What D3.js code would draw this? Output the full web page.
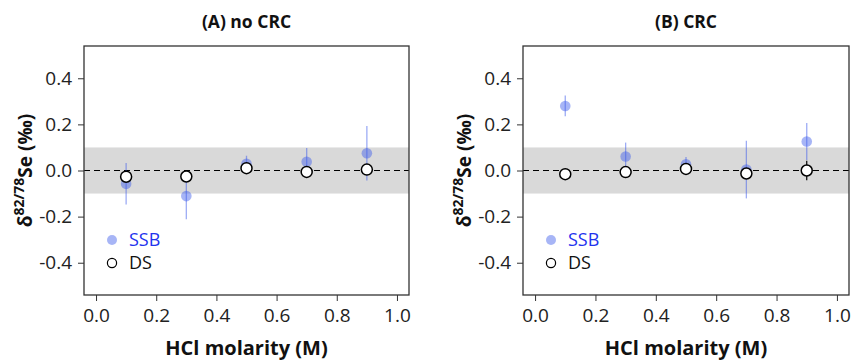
<!DOCTYPE html>
<html>
<head>
<meta charset="utf-8">
<script src="https://cdn.jsdelivr.net/npm/d3@7"></script>
<style>
  body { margin: 0; background: #fff; }
  svg { font-family: 'Open Sans', 'Noto Sans', sans-serif; }
</style>
</head>
<body>
<svg id="chart" width="851" height="360"></svg>
<script>
const molarity = [0.1, 0.3, 0.5, 0.7, 0.9]

// panel A: no CRC
const ssbA = [-0.058, -0.111, 0.029, 0.038, 0.075]
const ssbA_sd = [0.09, 0.1, 0.035, 0.06, 0.118]
const dsA = [-0.027, -0.026, 0.01, -0.006, 0.004]
const dsA_sd = [0.015, 0.015, 0.01, 0.01, 0.015]

// panel B: CRC
const ssbB = [0.28, 0.061, 0.027, 0.004, 0.126]
const ssbB_sd = [0.045, 0.06, 0.032, 0.125, 0.08]
const dsB = [-0.016, -0.007, 0.007, -0.013, 0.0]
const dsB_sd = [0.012, 0.012, 0.01, 0.012, 0.042]

const xTicks = [0, 0.2, 0.4, 0.6, 0.8, 1.0]
const yTicks = [-0.4, -0.2, 0, 0.2, 0.4]
const legendLabels = ['SSB', 'DS']

const panels = [
  { title: '(A) no CRC', left: 84, right: 409, ssb: ssbA, ssbSd: ssbA_sd, ds: dsA, dsSd: dsA_sd },
  { title: '(B) CRC', left: 523, right: 849, ssb: ssbB, ssbSd: ssbB_sd, ds: dsB, dsSd: dsB_sd },
]

const svg = d3.select('#chart')
const plotTop = 46
const plotBottom = 295
const ssbFill = 'rgba(60, 90, 235, 0.45)'
const ssbLine = 'rgba(60, 90, 235, 0.5)'

panels.forEach((p) => {
  const x = d3.scaleLinear().domain([-0.04, 1.04]).range([p.left, p.right])
  const y = d3.scaleLinear().domain([-0.54, 0.54]).range([plotBottom, plotTop])
  const g = svg.append('g')

  // grey band +-0.1
  g.append('rect')
    .attr('x', p.left)
    .attr('width', p.right - p.left)
    .attr('y', y(0.1))
    .attr('height', y(-0.1) - y(0.1))
    .attr('fill', '#d9d9d9')

  g.append('line')
    .attr('x1', p.left).attr('x2', p.right)
    .attr('y1', y(0)).attr('y2', y(0))
    .attr('stroke', '#000')
    .attr('stroke-width', 1.2)
    .attr('stroke-dasharray', '6,4')

  // axes
  const xAxis = g.append('g')
    .attr('transform', `translate(0, ${plotBottom})`)
    .call(d3.axisBottom(x).tickValues(xTicks).tickFormat(d3.format('.1f')).tickSize(6).tickPadding(8))
  xAxis.select('.domain').remove()

  const yAxis = g.append('g')
    .attr('transform', `translate(${p.left}, 0)`)
    .call(d3.axisLeft(y).tickValues(yTicks).tickSize(6).tickPadding(6))
  yAxis.select('.domain').remove()

  g.selectAll('.tick text')
    .style('font-size', '19px')
    .style('font-family', "'Open Sans', sans-serif")
    .attr('fill', '#222')
  g.selectAll('.tick line').attr('stroke', '#333')
  yAxis.selectAll('.tick text').text((d) => d3.format('.1f')(d).replace('−', '-'))

  // frame
  g.append('rect')
    .attr('x', p.left).attr('y', plotTop)
    .attr('width', p.right - p.left).attr('height', plotBottom - plotTop)
    .attr('fill', 'none')
    .attr('stroke', '#333')
    .attr('stroke-width', 1.3)

  // SSB error bars + points
  g.selectAll('.ssbErr')
    .data(molarity)
    .join('line')
    .attr('class', 'ssbErr')
    .attr('x1', (d) => x(d)).attr('x2', (d) => x(d))
    .attr('y1', (d, i) => y(p.ssb[i] + p.ssbSd[i]))
    .attr('y2', (d, i) => y(p.ssb[i] - p.ssbSd[i]))
    .attr('stroke', ssbLine)
    .attr('stroke-width', 1.3)

  g.selectAll('.ssbPt')
    .data(molarity)
    .join('circle')
    .attr('class', 'ssbPt')
    .attr('cx', (d) => x(d))
    .attr('cy', (d, i) => y(p.ssb[i]))
    .attr('r', 5.3)
    .attr('fill', ssbFill)

  // DS error bars + points
  g.selectAll('.dsErr')
    .data(molarity)
    .join('line')
    .attr('class', 'dsErr')
    .attr('x1', (d) => x(d)).attr('x2', (d) => x(d))
    .attr('y1', (d, i) => y(p.ds[i] + p.dsSd[i]))
    .attr('y2', (d, i) => y(p.ds[i] - p.dsSd[i]))
    .attr('stroke', '#000')
    .attr('stroke-width', 1.2)

  g.selectAll('.dsPt')
    .data(molarity)
    .join('circle')
    .attr('class', 'dsPt')
    .attr('cx', (d) => x(d))
    .attr('cy', (d, i) => y(p.ds[i]))
    .attr('r', 5.5)
    .attr('fill', '#fff')
    .attr('stroke', '#000')
    .attr('stroke-width', 1.5)

  // legend
  const lx = p.left + 28
  const leg = g.append('g')
  leg.append('circle').attr('cx', lx).attr('cy', 240).attr('r', 5).attr('fill', ssbFill)
  leg.append('circle').attr('cx', lx).attr('cy', 263).attr('r', 4.6)
    .attr('fill', 'none').attr('stroke', '#000').attr('stroke-width', 1.2)
  leg.selectAll('text')
    .data(legendLabels)
    .join('text')
    .attr('x', lx + 17)
    .attr('y', (d, i) => 240 + i * 23)
    .attr('dy', '0.35em')
    .style('font-size', '18px')
    .attr('fill', (d, i) => (i === 0 ? '#2233ee' : '#111'))
    .text((d) => d)

  // title
  g.append('text')
    .attr('x', (p.left + p.right) / 2)
    .attr('y', 28)
    .attr('text-anchor', 'middle')
    .style('font-size', '17.5px')
    .attr('font-weight', 'bold')
    .attr('fill', '#111')
    .text(p.title)

  // x label
  g.append('text')
    .attr('x', (p.left + p.right) / 2)
    .attr('y', 355)
    .attr('text-anchor', 'middle')
    .style('font-size', '20px')
    .attr('font-weight', 'bold')
    .attr('fill', '#111')
    .text('HCl molarity (M)')

  // y label
  const yl = g.append('text')
    .attr('transform', `translate(${p.left - 52}, ${(plotTop + plotBottom) / 2}) rotate(-90)`)
    .attr('text-anchor', 'middle')
    .style('font-size', '19px')
    .attr('font-weight', 'bold')
    .attr('fill', '#111')
  yl.append('tspan').text('δ')
  yl.append('tspan').attr('dy', -8).style('font-size', '14px').text('82/78')
  yl.append('tspan').attr('dy', 8).text('Se (‰)')
})
</script>
</body>
</html>
